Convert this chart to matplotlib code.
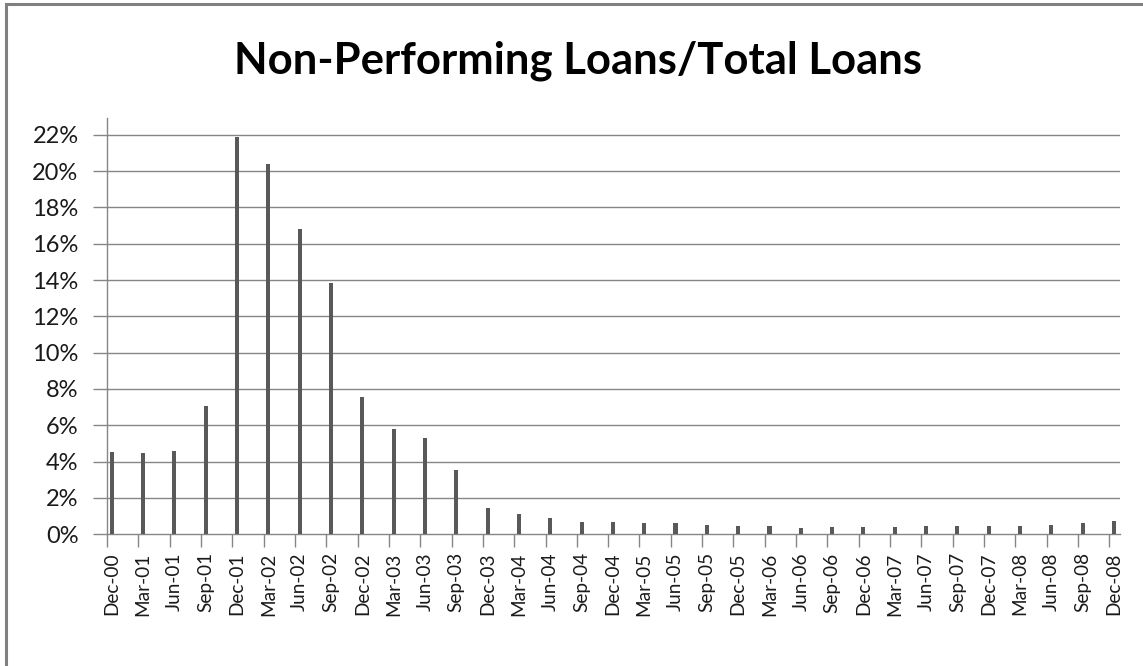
import matplotlib
matplotlib.use("Agg")
import matplotlib.pyplot as plt
from matplotlib.patches import Rectangle
from matplotlib.ticker import FixedLocator, FuncFormatter

quarters = ["Dec-00", "Mar-01", "Jun-01", "Sep-01", "Dec-01", "Mar-02", "Jun-02", "Sep-02",
            "Dec-02", "Mar-03", "Jun-03", "Sep-03", "Dec-03", "Mar-04", "Jun-04", "Sep-04",
            "Dec-04", "Mar-05", "Jun-05", "Sep-05", "Dec-05", "Mar-06", "Jun-06", "Sep-06",
            "Dec-06", "Mar-07", "Jun-07", "Sep-07", "Dec-07", "Mar-08", "Jun-08", "Sep-08",
            "Dec-08"]
npl_ratio = [4.52, 4.46, 4.61, 7.09, 21.9, 20.36, 16.81, 13.86,
             7.58, 5.80, 5.30, 3.54, 1.45, 1.10, 0.90, 0.67,
             0.67, 0.60, 0.60, 0.52, 0.45, 0.45, 0.32, 0.39,
             0.39, 0.39, 0.44, 0.44, 0.44, 0.44, 0.52, 0.60,
             0.73]
y_ticks = list(range(0, 23, 2))
title = "Non-Performing Loans/Total Loans"

W, H = 1143, 666
fig = plt.figure(figsize=(W / 100, H / 100), dpi=100)
fig.patch.set_facecolor("white")

font = "Lato"
grey = "#868686"

ax_left, ax_right = 107 / W, 1120 / W
ax_bottom = (H - 534.3) / H
ax_top = (H - 118) / H
ax = fig.add_axes([ax_left, ax_bottom, ax_right - ax_left, ax_top - ax_bottom])

x = list(range(len(quarters)))
ax.bar(x, npl_ratio, width=0.13, color="#595959", zorder=3)

off = 0.15
ax.set_xlim(-off, len(quarters) - 1 + 0.19)
ax.set_ylim(0, 22.92)

ax.set_yticks(y_ticks)
ax.yaxis.set_major_formatter(FuncFormatter(lambda v, p: f"{int(round(v))}%"))
ax.set_xticks(x)
ax.set_xticklabels(quarters, rotation=90, fontsize=13.7, family=font, color="#1a1a1a")
ax.xaxis.set_minor_locator(FixedLocator([i - off for i in x]))
ax.tick_params(axis="x", which="major", length=0, pad=13)
ax.tick_params(axis="x", which="minor", length=9, width=1, color=grey, direction="out")
ax.tick_params(axis="y", length=10, width=1, color=grey, direction="out", pad=10.5,
               labelsize=17, labelcolor="#1a1a1a")
for lab in ax.get_yticklabels():
    lab.set_family(font)

for v in y_ticks[1:]:
    ax.axhline(v, color=grey, lw=1, zorder=1)

for s in ["top", "right"]:
    ax.spines[s].set_visible(False)
for s in ["left", "bottom"]:
    ax.spines[s].set_color(grey)
    ax.spines[s].set_linewidth(1)

fig.text(578 / W, 1 - 61 / H, title, ha="center", va="center", fontsize=31.4,
         fontweight="bold", family=font, color="black")

# outer chart border (only top and left visible in the frame)
fig.add_artist(Rectangle((6 / W, -0.1), 2.0, 1 - 4 / H + 0.1, transform=fig.transFigure,
                         fill=False, edgecolor="#808080", lw=2.2))

fig.savefig("out.png", dpi=100)
